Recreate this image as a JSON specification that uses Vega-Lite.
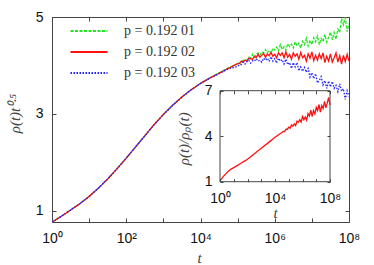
{
  "$schema": "https://vega.github.io/schema/vega-lite/v6.json",
  "width": 297,
  "height": 205,
  "autosize": {"type": "none"},
  "padding": {"left": 52, "top": 17, "right": 25, "bottom": 43},
  "background": "white",
  "config": {
    "view": {"stroke": "#444", "strokeWidth": 1},
    "axis": {"grid": false, "domain": false, "tickColor": "#444", "tickWidth": 1, "labelFlush": false, "labelOverlap": false, "labelFont": "Liberation Sans", "labelFontSize": 14, "labelColor": "#111"}
  },
  "datasets": {
    "main": [
      {"t": 1, "g": 0.77, "r": 0.77, "b": 0.77},
      {"t": 1.778, "g": 0.89, "r": 0.89, "b": 0.89},
      {"t": 3.162, "g": 1.02, "r": 1.02, "b": 1.02},
      {"t": 5.623, "g": 1.15, "r": 1.15, "b": 1.15},
      {"t": 10, "g": 1.30, "r": 1.30, "b": 1.30},
      {"t": 17.78, "g": 1.47, "r": 1.47, "b": 1.47},
      {"t": 31.62, "g": 1.66, "r": 1.66, "b": 1.66},
      {"t": 56.23, "g": 1.87, "r": 1.87, "b": 1.87},
      {"t": 100, "g": 2.09, "r": 2.09, "b": 2.09},
      {"t": 177.8, "g": 2.32, "r": 2.32, "b": 2.32},
      {"t": 316.2, "g": 2.55, "r": 2.55, "b": 2.55},
      {"t": 562.3, "g": 2.78, "r": 2.78, "b": 2.78},
      {"t": 1000, "g": 2.99, "r": 2.99, "b": 2.99},
      {"t": 1778, "g": 3.18, "r": 3.18, "b": 3.18},
      {"t": 3162, "g": 3.35, "r": 3.35, "b": 3.35},
      {"t": 5623, "g": 3.50, "r": 3.50, "b": 3.50},
      {"t": 10000, "g": 3.63, "r": 3.63, "b": 3.63},
      {"t": 17783, "g": 3.74, "r": 3.74, "b": 3.74},
      {"t": 31623, "g": 3.85, "r": 3.84, "b": 3.83},
      {"t": 56234, "g": 3.95, "r": 3.94, "b": 3.93},
      {"t": 1e5, "g": 4.03, "r": 4.04, "b": 3.98},
      {"t": 1.122e5, "g": 4.06, "r": 4.04, "b": 4.02},
      {"t": 1.259e5, "g": 4.05, "r": 4.09, "b": 4.02},
      {"t": 1.413e5, "g": 4.11, "r": 4.07, "b": 4.07},
      {"t": 1.585e5, "g": 4.11, "r": 4.11, "b": 4.03},
      {"t": 1.778e5, "g": 4.11, "r": 4.09, "b": 4.08},
      {"t": 1.995e5, "g": 4.17, "r": 4.15, "b": 4.11},
      {"t": 2.239e5, "g": 4.16, "r": 4.14, "b": 4.05},
      {"t": 2.512e5, "g": 4.23, "r": 4.13, "b": 4.10},
      {"t": 2.818e5, "g": 4.17, "r": 4.19, "b": 4.09},
      {"t": 3.162e5, "g": 4.23, "r": 4.16, "b": 4.14},
      {"t": 3.548e5, "g": 4.26, "r": 4.23, "b": 4.09},
      {"t": 3.981e5, "g": 4.21, "r": 4.17, "b": 4.11},
      {"t": 4.467e5, "g": 4.28, "r": 4.21, "b": 4.07},
      {"t": 5.012e5, "g": 4.26, "r": 4.25, "b": 4.15},
      {"t": 5.623e5, "g": 4.33, "r": 4.17, "b": 4.11},
      {"t": 6.310e5, "g": 4.26, "r": 4.24, "b": 4.15},
      {"t": 7.079e5, "g": 4.31, "r": 4.20, "b": 4.08},
      {"t": 7.943e5, "g": 4.25, "r": 4.27, "b": 4.18},
      {"t": 8.913e5, "g": 4.36, "r": 4.19, "b": 4.09},
      {"t": 1e6, "g": 4.32, "r": 4.23, "b": 4.14},
      {"t": 1.122e6, "g": 4.38, "r": 4.16, "b": 4.05},
      {"t": 1.259e6, "g": 4.30, "r": 4.26, "b": 4.15},
      {"t": 1.413e6, "g": 4.43, "r": 4.21, "b": 4.09},
      {"t": 1.585e6, "g": 4.33, "r": 4.26, "b": 4.12},
      {"t": 1.778e6, "g": 4.39, "r": 4.16, "b": 4.03},
      {"t": 1.995e6, "g": 4.32, "r": 4.28, "b": 4.13},
      {"t": 2.239e6, "g": 4.45, "r": 4.17, "b": 4.02},
      {"t": 2.512e6, "g": 4.39, "r": 4.23, "b": 4.06},
      {"t": 2.818e6, "g": 4.44, "r": 4.13, "b": 3.94},
      {"t": 3.162e6, "g": 4.36, "r": 4.26, "b": 4.06},
      {"t": 3.548e6, "g": 4.49, "r": 4.19, "b": 3.97},
      {"t": 3.981e6, "g": 4.40, "r": 4.24, "b": 4.06},
      {"t": 4.467e6, "g": 4.46, "r": 4.13, "b": 3.89},
      {"t": 5.012e6, "g": 4.36, "r": 4.27, "b": 3.97},
      {"t": 5.623e6, "g": 4.50, "r": 4.16, "b": 3.88},
      {"t": 6.310e6, "g": 4.43, "r": 4.21, "b": 3.96},
      {"t": 7.079e6, "g": 4.56, "r": 4.09, "b": 3.86},
      {"t": 7.943e6, "g": 4.40, "r": 4.24, "b": 3.94},
      {"t": 8.913e6, "g": 4.52, "r": 4.15, "b": 3.76},
      {"t": 1e7, "g": 4.43, "r": 4.28, "b": 3.85},
      {"t": 1.122e7, "g": 4.57, "r": 4.10, "b": 3.73},
      {"t": 1.259e7, "g": 4.49, "r": 4.21, "b": 3.83},
      {"t": 1.413e7, "g": 4.61, "r": 4.11, "b": 3.64},
      {"t": 1.585e7, "g": 4.43, "r": 4.24, "b": 3.69},
      {"t": 1.778e7, "g": 4.56, "r": 4.14, "b": 3.77},
      {"t": 1.995e7, "g": 4.49, "r": 4.26, "b": 3.60},
      {"t": 2.239e7, "g": 4.64, "r": 4.06, "b": 3.69},
      {"t": 2.512e7, "g": 4.48, "r": 4.19, "b": 3.53},
      {"t": 2.818e7, "g": 4.58, "r": 4.09, "b": 3.68},
      {"t": 3.162e7, "g": 4.69, "r": 4.24, "b": 3.56},
      {"t": 3.548e7, "g": 4.53, "r": 4.07, "b": 3.67},
      {"t": 3.981e7, "g": 4.68, "r": 4.16, "b": 3.53},
      {"t": 4.467e7, "g": 4.54, "r": 4.26, "b": 3.59},
      {"t": 5.012e7, "g": 4.75, "r": 4.07, "b": 3.46},
      {"t": 5.623e7, "g": 4.68, "r": 4.20, "b": 3.62},
      {"t": 6.310e7, "g": 4.97, "r": 4.03, "b": 3.47},
      {"t": 7.079e7, "g": 4.84, "r": 4.21, "b": 3.52},
      {"t": 7.943e7, "g": 4.99, "r": 4.08, "b": 3.30},
      {"t": 8.913e7, "g": 4.70, "r": 4.23, "b": 3.48},
      {"t": 1e8, "g": 4.86, "r": 4.09, "b": 3.36}
    ],
    "inset": [
      {"t": 1, "v": 1.05},
      {"t": 1.778, "v": 1.35},
      {"t": 3.162, "v": 1.60},
      {"t": 5.623, "v": 1.80},
      {"t": 10, "v": 1.93},
      {"t": 17.78, "v": 2.06},
      {"t": 31.62, "v": 2.20},
      {"t": 56.23, "v": 2.34},
      {"t": 100, "v": 2.48},
      {"t": 316.2, "v": 2.84},
      {"t": 1000, "v": 3.20},
      {"t": 3162, "v": 3.56},
      {"t": 10000, "v": 3.93},
      {"t": 31623, "v": 4.25},
      {"t": 3.981e4, "v": 4.32},
      {"t": 5.012e4, "v": 4.31},
      {"t": 6.310e4, "v": 4.47},
      {"t": 7.943e4, "v": 4.46},
      {"t": 1e5, "v": 4.59},
      {"t": 1.259e5, "v": 4.53},
      {"t": 1.585e5, "v": 4.75},
      {"t": 1.995e5, "v": 4.66},
      {"t": 2.512e5, "v": 4.81},
      {"t": 3.162e5, "v": 4.70},
      {"t": 3.981e5, "v": 5.00},
      {"t": 5.012e5, "v": 4.92},
      {"t": 6.310e5, "v": 5.09},
      {"t": 7.943e5, "v": 4.93},
      {"t": 1e6, "v": 5.30},
      {"t": 1.259e6, "v": 5.09},
      {"t": 1.585e6, "v": 5.27},
      {"t": 1.995e6, "v": 5.06},
      {"t": 2.512e6, "v": 5.49},
      {"t": 3.162e6, "v": 5.33},
      {"t": 3.981e6, "v": 5.72},
      {"t": 5.012e6, "v": 5.30},
      {"t": 6.310e6, "v": 5.69},
      {"t": 7.943e6, "v": 5.46},
      {"t": 1e7, "v": 5.90},
      {"t": 1.259e7, "v": 5.69},
      {"t": 1.585e7, "v": 6.09},
      {"t": 1.995e7, "v": 5.59},
      {"t": 2.512e7, "v": 6.02},
      {"t": 3.162e7, "v": 5.82},
      {"t": 3.981e7, "v": 6.30},
      {"t": 5.012e7, "v": 5.87},
      {"t": 6.310e7, "v": 6.18},
      {"t": 7.943e7, "v": 6.55},
      {"t": 1e8, "v": 6.06}
    ],
    "box": [{"x": 1, "x2": 1e8, "y": 1, "y2": 7}],
    "dummy": [{"t": 1, "v": 1}]
  },
  "layer": [
    {
      "data": {"name": "main"},
      "transform": [{"fold": ["g", "r", "b"], "as": ["p", "v"]}],
      "mark": {"type": "line", "strokeWidth": 1.3, "clip": true},
      "encoding": {
        "x": {
          "field": "t", "type": "quantitative",
          "scale": {"type": "log", "domain": [1, 1e8], "nice": false},
          "axis": {
            "orient": "bottom",
            "values": [1, 10, 100, 1000, 10000, 100000, 1000000, 10000000, 100000000],
            "labelExpr": "(round(log(datum.value)/LN10) % 2 == 0) ? '10' + ['⁰','¹','²','³','⁴','⁵','⁶','⁷','⁸'][round(log(datum.value)/LN10)] : ''",
            "tickSize": -4,
            "labelPadding": 13,
            "title": "t",
            "titleFont": "Liberation Serif", "titleFontStyle": "italic", "titleFontWeight": "normal", "titleFontSize": 15, "titleColor": "#444",
            "titleX": 147, "titleY": 40, "titleBaseline": "alphabetic", "titleAlign": "center"
          }
        },
        "y": {
          "field": "v", "type": "quantitative",
          "scale": {"domain": [0.773, 5], "nice": false, "zero": false},
          "axis": {
            "orient": "left",
            "values": [1, 3, 5],
            "tickSize": -4,
            "labelPadding": 13,
            "title": "ρ(t)t⁰·⁵",
            "titleFont": "Liberation Serif", "titleFontStyle": "italic", "titleFontWeight": "normal", "titleFontSize": 15, "titleColor": "#444",
            "titleAngle": -90, "titleX": -38, "titleY": 96, "titleBaseline": "middle", "titleAlign": "center"
          }
        },
        "color": {
          "field": "p", "type": "nominal",
          "scale": {"domain": ["g", "r", "b"], "range": ["#22e622", "#ff1111", "#2222ff"]},
          "legend": {
            "orient": "none", "legendX": 30, "legendY": 7, "title": null, "padding": 0,
            "symbolType": "M-4,0H4", "symbolSize": 85.6, "symbolStrokeWidth": 2, "symbolFillColor": "transparent",
            "labelExpr": "datum.label == 'g' ? 'p = 0.192 01' : datum.label == 'r' ? 'p = 0.192 02' : 'p = 0.192 03'",
            "labelFont": "Liberation Serif", "labelFontSize": 14, "labelColor": "#333", "labelOffset": 28, "labelLimit": 200,
            "rowPadding": 7
          }
        },
        "strokeDash": {
          "field": "p", "type": "nominal",
          "scale": {"domain": ["g", "r", "b"], "range": [[3, 1.5], [1, 0], [1.5, 1.5]]},
          "legend": {
            "orient": "none", "legendX": 30, "legendY": 7, "title": null, "padding": 0,
            "symbolType": "M-4,0H4", "symbolSize": 85.6, "symbolStrokeWidth": 2, "symbolFillColor": "transparent",
            "labelExpr": "datum.label == 'g' ? 'p = 0.192 01' : datum.label == 'r' ? 'p = 0.192 02' : 'p = 0.192 03'",
            "labelFont": "Liberation Serif", "labelFontSize": 14, "labelColor": "#333", "labelOffset": 28, "labelLimit": 200,
            "rowPadding": 7
          }
        }
      }
    },
    {
      "data": {"name": "dummy"},
      "mark": {"type": "point", "opacity": 0},
      "encoding": {
        "x": {
          "field": "t", "type": "quantitative",
          "scale": {"type": "log", "domain": [1, 1e8], "nice": false},
          "axis": {"orient": "top", "values": [1, 10, 100, 1000, 10000, 100000, 1000000, 10000000, 100000000], "labels": false, "tickSize": -4, "title": null}
        },
        "y": {
          "field": "v", "type": "quantitative",
          "scale": {"domain": [0.773, 5], "nice": false, "zero": false},
          "axis": {"orient": "right", "values": [1, 3, 5], "labels": false, "tickSize": -4, "title": null}
        }
      }
    },
    {
      "layer": [
        {
          "data": {"name": "box"},
          "mark": {"type": "rect", "fill": "white", "stroke": "#444", "strokeWidth": 1},
          "encoding": {
            "x": {
              "field": "x", "type": "quantitative",
              "scale": {"type": "log", "domain": [1, 1e8], "nice": false, "range": [168, 278]},
              "axis": {
                "orient": "bottom", "offset": -40.3, "zindex": 1,
                "values": [1, 10, 100, 1000, 10000, 100000, 1000000, 10000000, 100000000],
                "labelExpr": "(round(log(datum.value)/LN10) % 4 == 0) ? '10' + ['⁰','¹','²','³','⁴','⁵','⁶','⁷','⁸'][round(log(datum.value)/LN10)] : ''",
                "tickSize": -3, "labelPadding": 13,
                "title": "t",
                "titleFont": "Liberation Serif", "titleFontStyle": "italic", "titleFontWeight": "normal", "titleFontSize": 15, "titleColor": "#444",
                "titleX": 223, "titleY": 36, "titleBaseline": "alphabetic", "titleAlign": "center"
              }
            },
            "x2": {"field": "x2"},
            "y": {
              "field": "y", "type": "quantitative",
              "scale": {"domain": [1, 7], "nice": false, "zero": false, "range": [164.7, 73.7]},
              "axis": {
                "orient": "left", "offset": -168, "zindex": 1,
                "values": [1, 4, 7],
                "tickSize": -3, "labelPadding": 11,
                "title": "ρ(t)/ρₚ(t)",
                "titleFont": "Liberation Serif", "titleFontStyle": "italic", "titleFontWeight": "normal", "titleFontSize": 15, "titleColor": "#444",
                "titleAngle": -90, "titleX": -36.7, "titleY": 121.3, "titleBaseline": "middle", "titleAlign": "center"
              }
            },
            "y2": {"field": "y2"}
          }
        },
        {
          "data": {"name": "inset"},
          "mark": {"type": "line", "strokeWidth": 1.3, "color": "#ff1111"},
          "encoding": {
            "x": {"field": "t", "type": "quantitative"},
            "y": {"field": "v", "type": "quantitative"}
          }
        }
      ]
    },
    {
      "data": {"name": "dummy"},
      "mark": {"type": "point", "opacity": 0},
      "encoding": {
        "x": {
          "field": "t", "type": "quantitative",
          "scale": {"type": "log", "domain": [1, 1e8], "nice": false, "range": [168, 278]},
          "axis": {"orient": "top", "offset": -73.7, "zindex": 1, "values": [1, 10, 100, 1000, 10000, 100000, 1000000, 10000000, 100000000], "labels": false, "tickSize": -3, "title": null}
        },
        "y": {
          "field": "v", "type": "quantitative",
          "scale": {"domain": [1, 7], "nice": false, "zero": false, "range": [164.7, 73.7]},
          "axis": {"orient": "right", "offset": -19, "zindex": 1, "values": [1, 4, 7], "labels": false, "tickSize": -3, "title": null}
        }
      }
    }
  ],
  "resolve": {"scale": {"x": "independent", "y": "independent"}}
}
